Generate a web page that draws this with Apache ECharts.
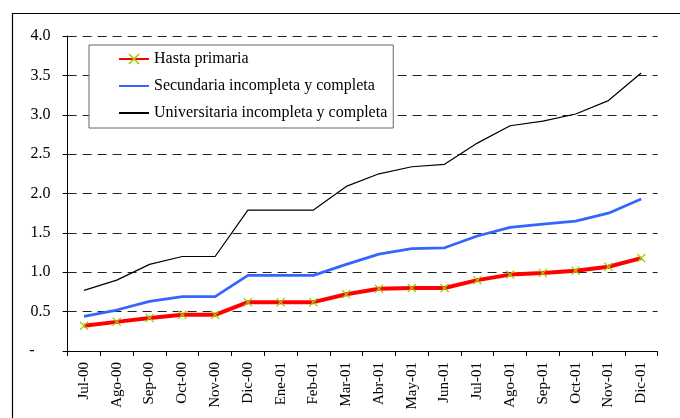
<!DOCTYPE html>
<html><head><meta charset="utf-8">
<script src="https://cdn.jsdelivr.net/npm/echarts@6/dist/echarts.min.js"></script>
<style>html,body{margin:0;padding:0;background:#fff}#c{width:680px;height:418px}</style>
</head><body><div id="c"></div>
<script>
const categories = ['Jul-00','Ago-00','Sep-00','Oct-00','Nov-00','Dic-00','Ene-01','Feb-01','Mar-01','Abr-01','May-01','Jun-01','Jul-01','Ago-01','Sep-01','Oct-01','Nov-01','Dic-01'];
const hastaPrimaria = [0.32,0.37,0.42,0.46,0.46,0.62,0.62,0.62,0.72,0.79,0.80,0.80,0.90,0.97,0.99,1.02,1.07,1.18];
const secundaria = [0.44,0.52,0.63,0.69,0.69,0.96,0.96,0.96,1.10,1.23,1.30,1.31,1.46,1.57,1.61,1.65,1.75,1.93];
const universitaria = [0.77,0.90,1.10,1.20,1.20,1.79,1.79,1.79,2.09,2.25,2.34,2.37,2.64,2.86,2.92,3.01,3.18,3.53];
const seriesNames = ['Hasta primaria','Secundaria incompleta y completa','Universitaria incompleta y completa'];

const font = 'Liberation Serif';
const xMark = 'path://M0,1L1,0L5,4L9,0L10,1L6,5L10,9L9,10L5,6L1,10L0,9L4,5Z';
const chart = echarts.init(document.getElementById('c'), null, {renderer:'canvas'});
chart.setOption({
  animation:false,
  backgroundColor:'#fff',
  graphic:[{type:'rect',left:10,top:11,shape:{width:700,height:440},style:{fill:'none',stroke:'#000',lineWidth:1.2},z:-1}],
  grid:{left:67.6,right:22.4,top:36,bottom:67},
  legend:{
    orient:'vertical',left:89,top:45,
    backgroundColor:'#fff',borderColor:'#666',borderWidth:1,
    padding:[6,6,7,29],itemWidth:30,itemHeight:14,itemGap:11,
    textStyle:{fontFamily:font,fontSize:16,color:'#000'},
    data:[
      {name:seriesNames[0]},
      {name:seriesNames[1],itemStyle:{opacity:0}},
      {name:seriesNames[2],itemStyle:{opacity:0}}
    ]
  },
  xAxis:{
    type:'category',data:categories,boundaryGap:true,
    axisLine:{lineStyle:{color:'#000',width:1}},
    axisTick:{show:true,inside:false,length:5,lineStyle:{color:'#000'}},
    axisLabel:{rotate:90,margin:11,fontFamily:font,fontSize:15,color:'#000',interval:0}
  },
  yAxis:{
    type:'value',min:0,max:4,interval:0.5,
    axisLine:{show:true,lineStyle:{color:'#000',width:1}},
    axisTick:{show:true,length:5,lineStyle:{color:'#000'}},
    axisLabel:{margin:17,fontFamily:font,fontSize:16,color:'#000',
      formatter:v=> v===0 ? '{d|-}' : v.toFixed(1),
      rich:{d:{fontFamily:font,fontSize:16,color:'#000',padding:[0,16,0,0]}}},
    splitLine:{show:true,lineStyle:{color:'#222',type:[9,6],width:1}}
  },
  series:[
    {name:seriesNames[0],type:'line',data:hastaPrimaria,z:5,
     lineStyle:{color:'#ff0000',width:4},itemStyle:{color:'#a0c800'},
     symbol:xMark,symbolSize:9,showSymbol:true},
    {name:seriesNames[1],type:'line',data:secundaria,z:4,
     lineStyle:{color:'#3366ff',width:2.7},itemStyle:{color:'#3366ff'},showSymbol:false,symbol:'none'},
    {name:seriesNames[2],type:'line',data:universitaria,z:3,
     lineStyle:{color:'#000',width:1.2},itemStyle:{color:'#000'},showSymbol:false,symbol:'none'}
  ]
});
</script></body></html>
